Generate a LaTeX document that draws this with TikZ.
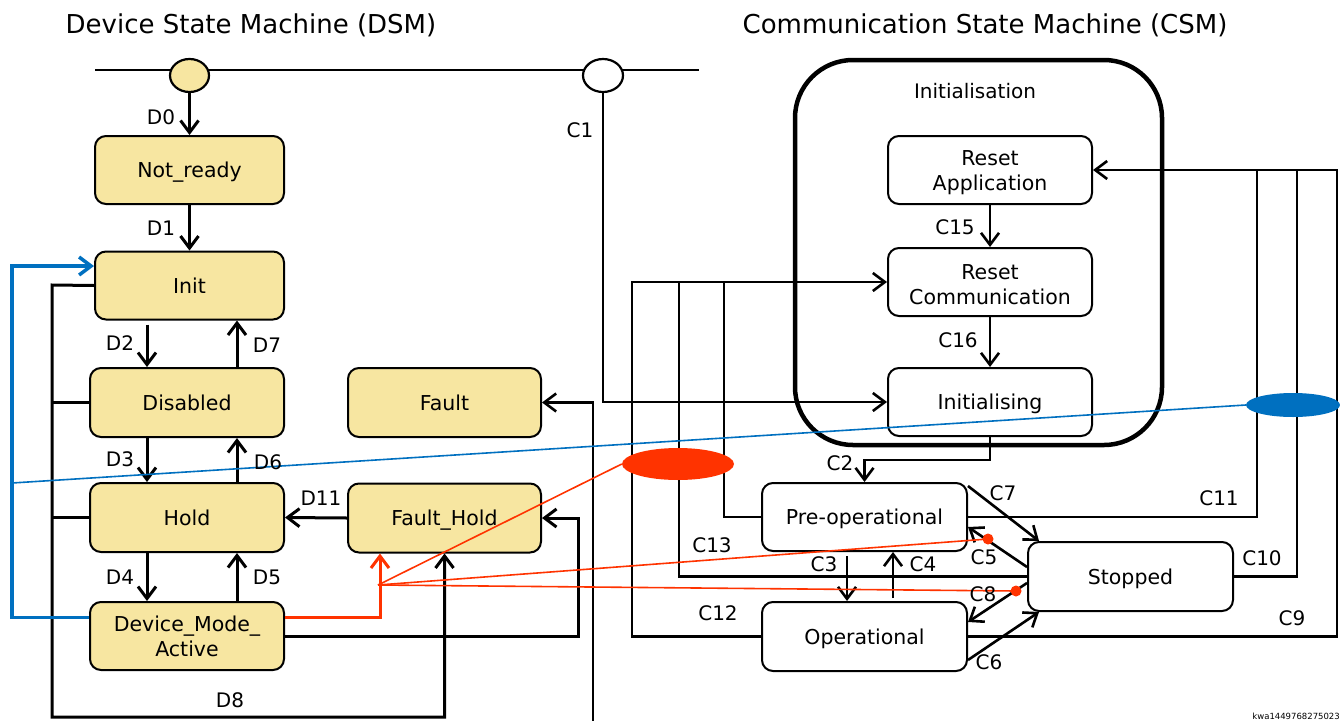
\documentclass[tikz,border=0pt]{standalone}
\usepackage{fontspec}
\setmainfont{DejaVu Sans}
\usetikzlibrary{arrows.meta,shapes.geometric}
\definecolor{dsmfill}{RGB}{247,230,161}
\definecolor{myblue}{RGB}{0,112,192}
\definecolor{myred}{RGB}{255,51,0}
\begin{document}
\begin{tikzpicture}[x=1pt,y=-1pt,
  state/.style={draw, line width=2pt, rounded corners=11pt, inner sep=0pt, align=center, font=\fontsize{20.5}{25}\selectfont},
  one/.style={text depth=0pt},
  dsm/.style={state, fill=dsmfill},
  csm/.style={state, fill=white},
  lbl/.style={font=\fontsize{20}{24}\selectfont, inner sep=0pt},
  ttl/.style={font=\fontsize{26}{30}\selectfont, inner sep=0pt},
  tip/.style={-{Straight Barb[length=12pt,width=18pt]}},
  dline/.style={line width=3pt},
  cline/.style={line width=2.6pt},
  redthick/.style={line width=3pt, draw=myred},
  redthin/.style={line width=1.6pt, draw=myred},
  bluethick/.style={line width=3.5pt, draw=myblue},
  bluethin/.style={line width=1.6pt, draw=myblue},
  dot/.style={circle, fill=myred, inner sep=0pt, minimum size=11pt}
]
\path[use as bounding box, fill=white] (0,0) rectangle (1340,720);

% titles
\node[ttl] (dsmtitle) at (251,25) {Device State Machine (DSM)};
\node[ttl] (csmtitle) at (985,25) {Communication State Machine (CSM)};

% top bar
\coordinate (barL) at (95,70);
\coordinate (barR) at (699,70);
\draw[line width=2.4pt] (barL) -- (barR);
\node[ellipse, draw, line width=2.2pt, fill=dsmfill, minimum width=39pt, minimum height=33pt, inner sep=0pt] (dsmoval) at (189.5,75.5) {};
\node[ellipse, draw, line width=2.2pt, fill=white, minimum width=40pt, minimum height=33pt, inner sep=0pt] (csmoval) at (603,75.5) {};

% Initialisation super-state
\node[draw, line width=4.5pt, rounded corners=58pt, minimum width=367pt, minimum height=385pt, inner sep=0pt] (initbox) at (978.5,252.5) {};
\node[lbl] (initlbl) at (975,91) {Initialisation};

% DSM states
\node[dsm, one, minimum width=189pt, minimum height=68pt] (notready) at (189.5,170) {Not\_ready};
\node[dsm, one, minimum width=189pt, minimum height=68pt] (init) at (189.5,285.5) {Init};
\node[dsm, one, minimum width=194pt, minimum height=69pt] (disabled) at (187,402.5) {Disabled};
\node[dsm, one, minimum width=194pt, minimum height=69pt] (hold) at (187,517.5) {Hold};
\node[dsm, minimum width=194pt, minimum height=68pt] (dma) at (187,636) {Device\_Mode\_\\Active};
\node[dsm, one, minimum width=193pt, minimum height=69pt] (fault) at (444.5,402.5) {Fault};
\node[dsm, one, minimum width=193pt, minimum height=69pt] (faulthold) at (444.5,518) {Fault\_Hold};

% CSM states
\node[csm, minimum width=204pt, minimum height=68pt] (resetapp) at (990,170) {\rule{0pt}{21pt}Reset\\Application};
\node[csm, minimum width=204pt, minimum height=68pt] (resetcomm) at (990,282) {\rule{0pt}{21pt}Reset\\Communication};
\node[csm, one, minimum width=204pt, minimum height=68pt] (initialising) at (990,402) {Initialising};
\node[csm, one, minimum width=205pt, minimum height=68pt] (preop) at (864.5,517) {Pre-operational};
\node[csm, one, minimum width=205pt, minimum height=69pt] (oper) at (864.5,636.5) {Operational};
\node[csm, one, minimum width=205pt, minimum height=69pt] (stopped) at (1130.5,576.5) {Stopped};

% column coordinates
\coordinate (cL) at (147,0);
\coordinate (cR) at (237,0);
\coordinate (busTop) at (52,285);
\coordinate (busBot) at (52,717);
\coordinate (fhR) at (578,0);
\coordinate (fR) at (593,0);
\coordinate (fBot) at (593,722);

% DSM transitions
\draw[dline, tip] (dsmoval.south) -- (notready.north);
\draw[dline, tip] (notready.south) -- (init.north);
\draw[dline, tip, shorten <=4pt] (init.south -| cL) -- (disabled.north -| cL);
\draw[dline, tip] (disabled.north -| cR) -- (init.south -| cR);
\draw[dline, tip] (disabled.south -| cL) -- (hold.north -| cL);
\draw[dline, tip] (hold.north -| cR) -- (disabled.south -| cR);
\draw[dline, tip] (hold.south -| cL) -- (dma.north -| cL);
\draw[dline, tip] (dma.north -| cR) -- (hold.south -| cR);
\draw[dline, tip] (faulthold.west) -- (hold.east);
\draw[dline, tip] (init.west) -- (busTop) -- (busBot) -| (faulthold.south);
\draw[dline] (disabled.west) -- (disabled.west -| busTop);
\draw[dline] (hold.west) -- (hold.west -| busTop);
\draw[dline, tip] (dma.east) -- (dma.east -| fhR) -- (faulthold.east -| fhR) -- (faulthold.east);
\draw[cline, tip] (fBot) -- (fault.east -| fR) -- (fault.east);

% CSM transitions
\draw[cline, tip] (csmoval.south) |- (initialising.west);
\draw[cline, tip] (resetapp.south) -- (resetcomm.north);
\draw[cline, tip] (resetcomm.south) -- (initialising.north);
\coordinate (c2m) at (864.5,460);
\draw[cline, tip] (initialising.south) |- (c2m) -- (preop.north);
\draw[cline, tip, shorten <=4pt] ([xshift=-17.5pt]preop.south) -- ([xshift=-17.5pt]oper.north);
\draw[cline, tip, shorten <=3pt] ([xshift=28.5pt]oper.north) -- ([xshift=28.5pt]preop.south);
\draw[cline, tip] ([yshift=-4pt]preop.north east) -- ([xshift=12pt]stopped.north west);
\draw[cline, tip] ([yshift=9.5pt]stopped.west) -- ([yshift=-10pt]preop.east);
\draw[cline, tip] ([yshift=-6.5pt]stopped.west) -- ([yshift=14.5pt]oper.east);
\draw[cline, tip] ([yshift=-23.5pt]oper.east) -- ([xshift=12pt]stopped.south west);
% to Reset Application
\coordinate (c9c) at (1337,170);
\coordinate (c10c) at (1297,170);
\coordinate (c11c) at (1257,170);
\draw[cline, tip] (oper.east) -| (c9c) -- (resetapp.east);
\draw[cline] (stopped.east) -| (c10c);
\draw[cline] (preop.east) -| (c11c);
% to Reset Communication
\coordinate (c12c) at (632,282);
\coordinate (c13c) at (679,282);
\coordinate (c14c) at (724,282);
\draw[cline, tip] (oper.west) -| (c12c) -- (resetcomm.west);
\draw[cline] (stopped.west) -| (c13c);
\draw[cline] (preop.west) -| (c14c);

% ellipses
\node[ellipse, fill=myred, minimum width=112pt, minimum height=32pt, inner sep=0pt] (redell) at (678,464) {};
\node[ellipse, fill=myblue, minimum width=94pt, minimum height=24pt, inner sep=0pt] (blueell) at (1293,405) {};

% red lines
\coordinate (rj) at (378,585);
\draw[redthick, tip] ([yshift=19pt]dma.east) -| ([xshift=-64.5pt]faulthold.south);
\node[dot] (c5dot) at (988,539) {};
\node[dot] (c8dot) at (1016,591) {};
\draw[redthin] (rj) -- (redell.west);
\draw[redthin] (rj) -- (c5dot.center);
\draw[redthin] (rj) -- (c8dot.center);

% blue lines
\coordinate (bj) at (12,483);
\draw[bluethick, tip] ([yshift=18.5pt]dma.west) -- (12,617.5) |- ([yshift=19.5pt]init.west);
\draw[bluethin] (bj) -- (blueell.west);

% labels
\node[lbl] (lD0) at (161,117) {D0};
\node[lbl] (lD1) at (161,228) {D1};
\node[lbl] (lD2) at (120,343) {D2};
\node[lbl] (lD7) at (267,345) {D7};
\node[lbl] (lD3) at (120,459) {D3};
\node[lbl] (lD6) at (268,462) {D6};
\node[lbl] (lD4) at (120,577) {D4};
\node[lbl] (lD5) at (267,577) {D5};
\node[lbl] (lD8) at (230,700) {D8};
\node[lbl] (lD11) at (321,498) {D11};
\node[lbl] (lC1) at (580,130) {C1};
\node[lbl] (lC15) at (955,227) {C15};
\node[lbl] (lC16) at (958,340) {C16};
\node[lbl] (lC2) at (840,463) {C2};
\node[lbl] (lC3) at (824,564) {C3};
\node[lbl] (lC4) at (923,564) {C4};
\node[lbl] (lC7) at (1003,493) {C7};
\node[lbl] (lC5) at (984,557) {C5};
\node[lbl] (lC8) at (983,594) {C8};
\node[lbl] (lC6) at (989,662) {C6};
\node[lbl] (lC11) at (1219,498) {C11};
\node[lbl] (lC10) at (1262,558) {C10};
\node[lbl] (lC9) at (1292,618) {C9};
\node[lbl] (lC13) at (712,545) {C13};
\node[lbl] (lC12) at (718,613) {C12};
\node[font=\fontsize{8.5}{10}\selectfont, inner sep=0pt, anchor=east] (code) at (1340,716) {kwa1449768275023};
\end{tikzpicture}
\end{document}
